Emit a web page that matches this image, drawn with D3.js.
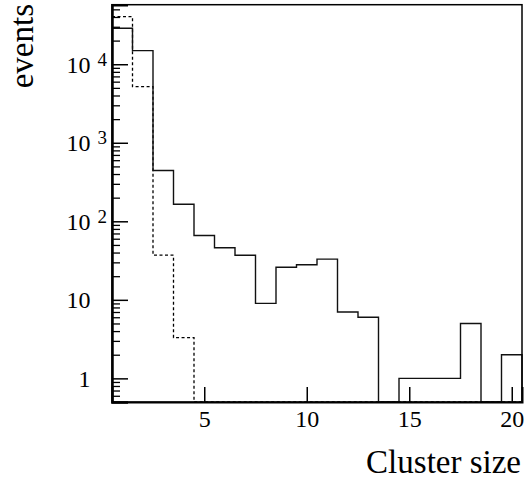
<!DOCTYPE html>
<html>
<head>
<meta charset="utf-8">
<script src="https://cdn.jsdelivr.net/npm/d3@7"></script>
<style>
  html, body { margin: 0; padding: 0; background: #fff; }
  svg { display: block; }
</style>
</head>
<body>
<svg id="chart" width="529" height="477"></svg>
<script>
// ---- data ----
const binCenters = [1,2,3,4,5,6,7,8,9,10,11,12,13,14,15,16,17,18,19,20];
const solidValues = [28700,14900,443,165,66,46,37,9,26,28,33,7,6,0,1,1,1,5,0,2];
const dashedValues = [40300,5190,37,3.3,0,0,0,0,0,0,0,0,0,0,0,0,0,0,0,0];
const xTicks = [5,10,15,20];
const yTicks = [1,10,100,1000,10000];
const xTitle = "Cluster size";
const yTitle = "events";

// pick an installed Times-like serif font
function pickFont(cands) {
  const c = document.createElement("canvas").getContext("2d");
  const probe = "Cluster size events 0123456789 mmmwwwlli";
  function w(f) { c.font = "40px " + f; return c.measureText(probe).width; }
  const bases = ["monospace", "sans-serif"];
  for (const f of cands) {
    for (const b of bases) {
      if (Math.abs(w('"' + f + '",' + b) - w(b)) > 0.5) return '"' + f + '"';
    }
  }
  return "serif";
}
const FONT = pickFont(["Liberation Serif", "Times New Roman", "Tinos", "Nimbus Roman", "Nimbus Roman No9 L", "Times", "DejaVu Serif", "Noto Serif"]) + ", serif";

// ---- layout ----
const L = 112, R = 522, T = 4.7, B = 402;
const svg = d3.select("#chart");

const x = d3.scaleLinear().domain([0.5, 20.5]).range([L, R]);
const yMin = 0.5, yMax = 57300;
const y = d3.scaleLog().domain([yMin, yMax]).range([B, T]);

function stepPoints(vals) {
  const pts = [];
  vals.forEach((v, i) => {
    const c = binCenters[i];
    const vv = Math.max(v, yMin);
    pts.push([c - 0.5, vv], [c + 0.5, vv]);
  });
  pts.push([binCenters[binCenters.length - 1] + 0.5, yMin]);
  return pts;
}
const line = d3.line().x(d => x(d[0])).y(d => y(d[1]));

svg.append("path")
  .attr("d", line(stepPoints(dashedValues)))
  .attr("fill", "none").attr("stroke", "#000")
  .attr("stroke-width", 1.3).attr("stroke-dasharray", "3,2.5");

svg.append("path")
  .attr("d", line(stepPoints(solidValues)))
  .attr("fill", "none").attr("stroke", "#111")
  .attr("stroke-width", 1.4);

// frame
svg.append("rect")
  .attr("x", L).attr("y", T).attr("width", R - L).attr("height", B - T)
  .attr("fill", "none").attr("stroke", "#000").attr("stroke-width", 1.5);

// x axis
const xAxis = d3.axisBottom(x).tickValues(xTicks).tickSize(-15).tickPadding(8).tickFormat(d3.format("d"));
const gx = svg.append("g").attr("transform", `translate(0,${B})`).call(xAxis);
gx.attr("font-family", FONT).attr("font-size", 24);
gx.select(".domain").attr("stroke-width", 2);
gx.selectAll(".tick line").attr("stroke-width", 1.5);
gx.selectAll(".tick text").style("font-family", FONT).style("font-size", "24px");

// y axis major ticks
const yAxisMajor = d3.axisLeft(y).tickValues(yTicks).tickSize(-16).tickFormat("");
const gy = svg.append("g").attr("transform", `translate(${L},0)`).call(yAxisMajor);
gy.select(".domain").attr("stroke-width", 2.5);
gy.selectAll(".tick line").attr("stroke-width", 1.5);

// y axis minor ticks
const minor = [];
for (let e = -1; e <= 4; e++) {
  for (let m = 2; m <= 9; m++) {
    const v = m * Math.pow(10, e);
    if (v >= yMin && v <= yMax) minor.push(v);
  }
}
const yAxisMinor = d3.axisLeft(y).tickValues(minor).tickSize(-8).tickFormat("");
const gym = svg.append("g").attr("transform", `translate(${L},0)`).call(yAxisMinor);
gym.select(".domain").remove();
gym.selectAll(".tick line").attr("stroke-width", 1.3);

function addText(xp, yp, anchor, size, str) {
  return svg.append("text").attr("x", xp).attr("y", yp)
    .attr("text-anchor", anchor)
    .style("font-family", FONT)
    .style("font-size", size + "px").attr("fill", "#000").text(str);
}

// y tick labels with superscripts
yTicks.forEach(v => {
  const e = Math.round(Math.log10(v));
  const yy = y(v);
  if (e <= 1) {
    addText(90.5, yy + 8.5, "end", 24, String(v));
  } else {
    addText(90.5, yy + 8.5, "end", 24, "10");
    addText(97.5, yy + 1.5, "start", 19, String(e));
  }
});

// axis titles
addText(521, 473, "end", 33, xTitle);
addText(0, 0, "end", 33, yTitle).attr("transform", "translate(33,4) rotate(-90)");
</script>
</body>
</html>
